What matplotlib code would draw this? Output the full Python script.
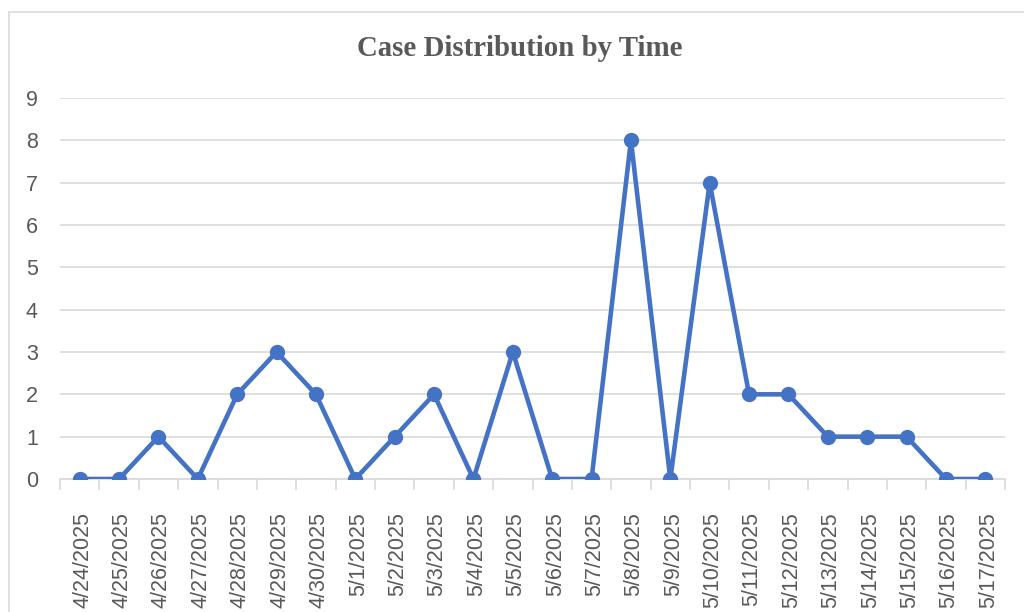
import matplotlib.pyplot as plt
from matplotlib.patches import Rectangle
from matplotlib.transforms import ScaledTranslation

dates = ["4/24/2025", "4/25/2025", "4/26/2025", "4/27/2025", "4/28/2025",
         "4/29/2025", "4/30/2025", "5/1/2025", "5/2/2025", "5/3/2025",
         "5/4/2025", "5/5/2025", "5/6/2025", "5/7/2025", "5/8/2025",
         "5/9/2025", "5/10/2025", "5/11/2025", "5/12/2025", "5/13/2025",
         "5/14/2025", "5/15/2025", "5/16/2025", "5/17/2025"]
cases = [0, 0, 1, 0, 2, 3, 2, 0, 1, 2, 0, 3, 0, 0, 8, 0, 7, 2, 2, 1, 1, 1, 0, 0]

W, H = 1024, 612
fig = plt.figure(figsize=(W / 100, H / 100), dpi=100)

# chart frame (cropped on the right and bottom)
fig.patches.append(Rectangle((9 / W, -0.1), 1.2, 1 - 12 / H + 0.1,
                             transform=fig.transFigure, fill=False,
                             edgecolor="#D9D9D9", linewidth=1.2))

left, right, top, bottom = 60, 1005, 98, 479
ax = fig.add_axes([left / W, (H - bottom) / H, (right - left) / W, (bottom - top) / H])

x = list(range(len(dates)))
ax.plot(x, cases, color="#4472C4", linewidth=3.3, marker="o", markersize=10,
        solid_joinstyle="miter", zorder=3)

ax.set_xlim(-0.5, len(dates) - 0.5)
ax.set_ylim(0, 9)
ax.set_yticks(range(10))
ax.grid(axis="y", color="#D9D9D9", linewidth=1.2)
ax.set_axisbelow(True)

for s in ["top", "right", "left"]:
    ax.spines[s].set_visible(False)
ax.spines["bottom"].set_color("#D9D9D9")
ax.spines["bottom"].set_linewidth(1.2)

ax.set_xticks(x)
ax.set_xticklabels(dates, rotation=90, fontsize=15.5, color="#595959", va="top", ha="center",
                   family="Liberation Sans")
ax.tick_params(axis="x", length=0, pad=24)
shift = ScaledTranslation(3 / 100, 0, fig.dpi_scale_trans)
for lbl in ax.get_xticklabels():
    lbl.set_transform(lbl.get_transform() + shift)
ax.set_xticks([i - 0.5 for i in range(len(dates) + 1)], minor=True)
ax.tick_params(axis="x", which="minor", length=8, color="#D9D9D9", width=1.2)
ax.tick_params(axis="y", length=0, labelsize=15.5, labelcolor="#595959", pad=16)
for lbl in ax.get_yticklabels():
    lbl.set_family("Liberation Sans")

fig.text(520 / W, 1 - 49 / H, "Case Distribution by Time", ha="center", va="center",
         fontsize=20.8, fontweight="bold", color="#595959", family="Liberation Serif")

fig.savefig("out.png", dpi=100)
